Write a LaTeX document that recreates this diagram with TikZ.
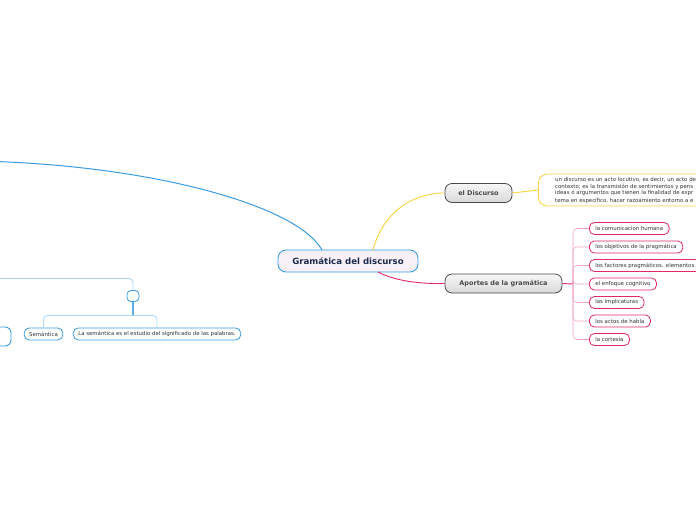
\documentclass[tikz,border=0pt]{standalone}
\usepackage{fontspec}
\setmainfont{DejaVu Sans}
\definecolor{cblue}{HTML}{3B9BE2}
\definecolor{lblue}{HTML}{A9D6F7}
\definecolor{cyel}{HTML}{F9D23C}
\definecolor{cpink}{HTML}{E3266E}
\definecolor{lpink}{HTML}{F2A3C2}
\definecolor{navy}{HTML}{1C2A4E}
\definecolor{dgrey}{HTML}{4A4A4A}
\definecolor{ctext}{HTML}{333333}
\tikzset{
  central/.style={draw=cblue,line width=0.9pt,rounded corners=8pt,fill=white!94!violet,
    minimum width=140pt,minimum height=22pt,font=\fontsize{8.6}{10}\selectfont\bfseries,text=navy,inner sep=0pt},
  branch/.style={draw=dgrey,line width=0.8pt,rounded corners=7pt,top color=white!97!black,bottom color=white!85!black,
    minimum height=19pt,font=\fontsize{6.5}{7.5}\selectfont\bfseries,text=dgrey,inner sep=0pt},
  pinkleaf/.style={draw=cpink,line width=0.8pt,rounded corners=5pt,fill=white,anchor=west,
    minimum height=12pt,inner xsep=6pt,inner ysep=0pt,font=\fontsize{5.4}{6.4}\selectfont,text=ctext},
  blueleaf/.style={draw=cblue,line width=0.8pt,rounded corners=5pt,fill=white,
    minimum height=12pt,inner xsep=5pt,inner ysep=0pt,font=\fontsize{5.4}{6.4}\selectfont,text=ctext},
  ybox/.style={draw=cyel,line width=0.8pt,rounded corners=9pt,fill=white,anchor=west,
    minimum height=32pt,minimum width=200pt,inner sep=0pt},
  ytext/.style={anchor=west,font=\fontsize{5.4}{6.4}\selectfont,text=ctext,inner sep=0pt},
  ycon/.style={draw=cyel,line width=0.9pt},
  pcon/.style={draw=cpink,line width=0.9pt},
  plcon/.style={draw=lpink,line width=0.6pt,rounded corners=4pt},
  bcon/.style={draw=cblue,line width=1pt},
  blcon/.style={draw=lblue,line width=0.8pt,rounded corners=4pt},
}
\begin{document}
\begin{tikzpicture}[x=1pt,y=-1pt]
\useasboundingbox (0,0) rectangle (696,520);
\clip (0,0) rectangle (696,520);
% central
\node[central] (c) at (348,261) {Gramática del discurso};
% branches
\node[branch,minimum width=67pt] (ed) at (478.5,193) {el Discurso};
\node[branch,minimum width=117pt] (ap) at (503.5,283.5) {Aportes de la gramática};
% yellow
\draw[ycon] (373,250) .. controls (382,215) and (410,193) .. (ed.west);
\node[ybox] (yb) at (538,190) {};
\draw[ycon] (ed.east) -- (yb.west);
\node[ytext] (y1) at (555,179.5) {un discurso es un acto locutivo, es decir, un acto de};
\node[ytext] (y2) at (555,186.5) {contexto; es la transmisión de sentimientos y pens};
\node[ytext] (y3) at (555,193.5) {ideas o argumentos que tienen la finalidad de expr};
\node[ytext] (y4) at (555,200.5) {tema en específico, hacer razoamiento entorno a e};
% pink
\draw[pcon] (378,272) .. controls (395,281) and (420,284) .. (ap.west);
\coordinate (apj) at (573,284);
\draw[pcon] (ap.east) -- (apj);
\node[pinkleaf] (p1) at (589,228.5) {la comunicacion humana};
\node[pinkleaf] (p2) at (589,247) {los objetivos de la pragmática};
\node[pinkleaf] (p3) at (589,265.5) {los factores pragmáticos. elementos};
\node[pinkleaf] (p4) at (589,284) {el enfoque cognitivo};
\node[pinkleaf] (p5) at (589,302.5) {las implicaturas};
\node[pinkleaf] (p6) at (589,321) {los actos de habla};
\node[pinkleaf] (p7) at (589,339.5) {la cortesía};
\foreach \p in {p1,p2,p3,p4,p5,p6,p7}{\draw[plcon] (apj) |- (\p.west);}
% blue
\coordinate (far) at (-20,161);
\draw[bcon] (322,250) .. controls (297,205) and (150,165) .. (far);
\coordinate (lft) at (-10,278.5);
\node[blueleaf,minimum width=12pt,minimum height=11pt,inner xsep=0pt,rounded corners=4pt] (sm) at (133,296) {};
\draw[blcon] (lft) -| (sm.north);
\node[blueleaf] (se) at (43.5,334) {Semántica};
\node[blueleaf] (ls) at (157,334) {La semántica es el estudio del significado de las palabras.};
\coordinate (bj) at (133,315.5);
\draw[draw=cblue!70!lblue,line width=1.2pt] (sm.south) -- (bj);
\draw[blcon] (bj) -| (se.north);
\draw[blcon] (bj) -| (ls.north);
\node[draw=cblue,line width=0.9pt,rounded corners=6pt,fill=white,minimum width=40pt,minimum height=19pt] (lp) at (-9,336.5) {};
\end{tikzpicture}
\end{document}
